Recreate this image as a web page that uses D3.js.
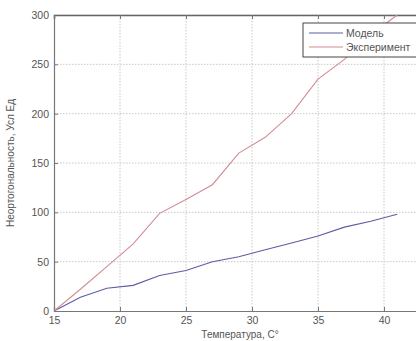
<!DOCTYPE html>
<html><head><meta charset="utf-8">
<script src="https://cdn.jsdelivr.net/npm/d3@7"></script>
<style>
body{margin:0;background:#fff;overflow:hidden}
text{font-family:"Liberation Sans",Arial,sans-serif;fill:#555}
</style></head><body>
<svg id="c" width="416" height="341"></svg>
<script>
const temps = [15,17,19,21,23,25,27,29,31,33,35,37,39,41];
const model = [0,14,23,26,36,41,50,55,62,69,76,85,91,98];
const experiment = [0,22,45,68,99,113,128,160,176,200,235,255,280,300];
const xTicks = [15,20,25,30,35,40];
const yTicks = [0,50,100,150,200,250,300];
const seriesNames = ["Модель","Эксперимент"];
const seriesColors = ["#5c5ca6","#d38c94"];

const svg = d3.select("#c");
const m = {l:54, t:15, r:450, b:311};
const x = d3.scaleLinear().domain([15,45]).range([m.l,m.r]);
const y = d3.scaleLinear().domain([0,300]).range([m.b,m.t]);

// grid
svg.append("g").selectAll("line").data(xTicks.slice(1)).join("line")
  .attr("x1",d=>x(d)).attr("x2",d=>x(d)).attr("y1",m.t).attr("y2",m.b)
  .attr("stroke","#c8c8c8").attr("stroke-width",1).attr("stroke-dasharray","1.5,1.5");
svg.append("g").selectAll("line").data(yTicks.slice(1)).join("line")
  .attr("x1",m.l).attr("x2",m.r).attr("y1",d=>y(d)).attr("y2",d=>y(d))
  .attr("stroke","#c8c8c8").attr("stroke-width",1).attr("stroke-dasharray","1.5,1.5");

// axes
const xa = svg.append("g").attr("transform",`translate(0,${m.b})`)
  .call(d3.axisBottom(x).tickValues(xTicks).tickSize(-4).tickPadding(6));
const ya = svg.append("g").attr("transform",`translate(${m.l},0)`)
  .call(d3.axisLeft(y).tickValues(yTicks).tickSize(-4).tickPadding(5));
const xaT = svg.append("g").attr("transform",`translate(0,${m.t})`)
  .call(d3.axisTop(x).tickValues(xTicks).tickSize(-4).tickFormat(""));
[xa,ya,xaT].forEach(g=>{
  g.selectAll("path").attr("stroke","#777").attr("stroke-width",1.2);
  g.selectAll("line").attr("stroke","#777");
  g.selectAll("text").style("font-size","10.5px").attr("fill","#555");
});
xaT.select("path").attr("stroke","#666").attr("stroke-width",1.6);

// lines
const line = d3.line().x((d,i)=>x(temps[i])).y(d=>y(d));
[model,experiment].forEach((s,k)=>{
  svg.append("path").datum(s).attr("d",line).attr("fill","none")
    .attr("stroke",seriesColors[k]).attr("stroke-width",1.1);
});

// titles
svg.append("text").attr("x",240).attr("y",338).attr("text-anchor","middle")
  .style("font-size","10px").text("Температура, С°");
svg.append("text").attr("transform",`translate(10,${(m.t+m.b)/2}) rotate(-90)`)
  .attr("text-anchor","middle").attr("dy","0.35em")
  .style("font-size","10px").text("Неортогональность, Усл Ед");

// legend
const lg = svg.append("g");
lg.append("rect").attr("x",303).attr("y",23).attr("width",130).attr("height",34)
  .attr("fill","#fff").attr("stroke","#444").attr("stroke-width",1);
seriesNames.forEach((n,i)=>{
  const yy = 33 + i*14;
  lg.append("line").attr("x1",309).attr("x2",343).attr("y1",yy).attr("y2",yy)
    .attr("stroke",seriesColors[i]).attr("stroke-width",1.1);
  lg.append("text").attr("x",346).attr("y",yy).attr("dy","0.35em")
    .style("font-size","10.5px").attr("fill","#555").text(n);
});
</script></body></html>
